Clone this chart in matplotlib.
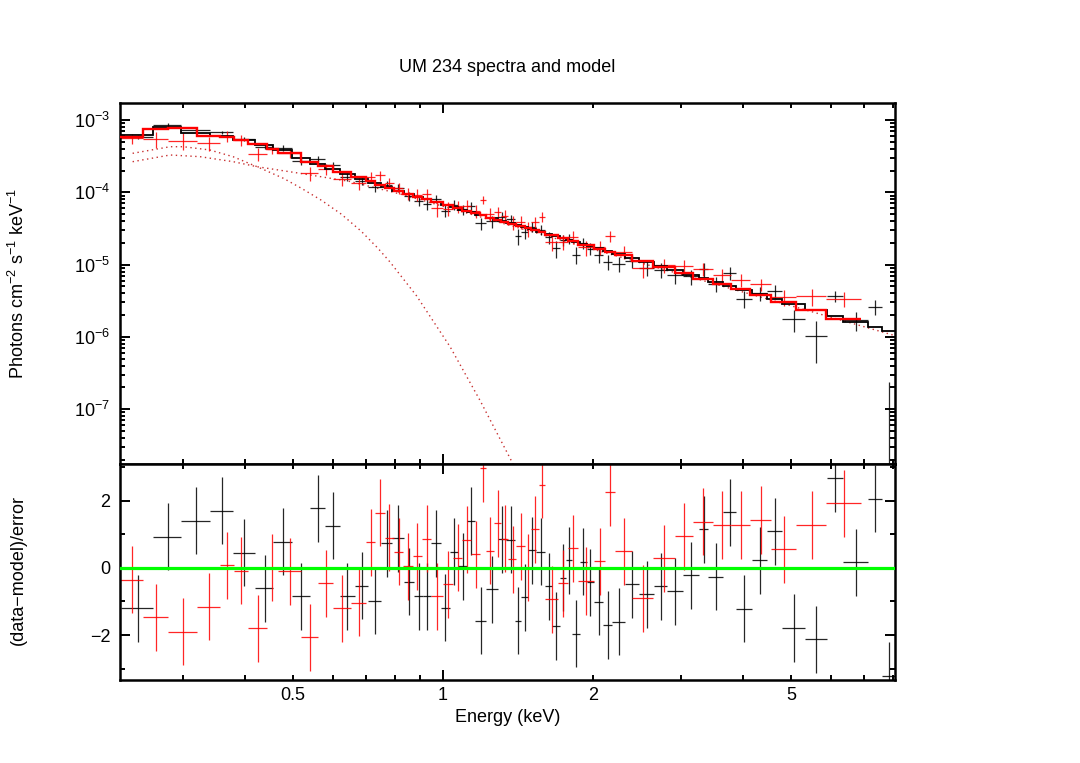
import numpy as np
import matplotlib
matplotlib.use("Agg")
import matplotlib.pyplot as plt
from matplotlib.ticker import FixedLocator, FuncFormatter, LogLocator, NullFormatter

plt.rcParams['font.family'] = ['Liberation Sans', 'DejaVu Sans']
plt.rcParams['mathtext.fontset'] = 'custom'
plt.rcParams['mathtext.rm'] = 'Liberation Sans'
plt.rcParams['mathtext.it'] = 'Liberation Sans:italic'
plt.rcParams['mathtext.bf'] = 'Liberation Sans:bold'

# ---- black spectrum: bin edges (keV), model per bin, residual, fractional error ----
bk_edges = [0.226, 0.262, 0.298, 0.341, 0.378, 0.420, 0.456, 0.497, 0.540, 0.580,
            0.620, 0.665, 0.707, 0.752, 0.790, 0.835, 0.875, 0.912, 0.947, 0.990,
            1.032, 1.072, 1.117, 1.161, 1.222, 1.289, 1.340, 1.393, 1.436, 1.482,
            1.540, 1.605, 1.656, 1.716, 1.764, 1.816, 1.881, 1.941, 2.011, 2.096,
            2.185, 2.317, 2.472, 2.653, 2.822, 3.029, 3.263, 3.406, 3.650, 3.882,
            4.174, 4.474, 4.794, 5.324, 5.896, 6.368, 7.137, 7.614, 8.123]
bk_model = [6.20e-4, 8.07e-4, 6.67e-4, 6.01e-4, 5.29e-4, 4.51e-4, 3.85e-4, 2.95e-4, 2.47e-4, 2.10e-4,
            1.79e-4, 1.54e-4, 1.34e-4, 1.17e-4, 1.04e-4, 9.38e-5, 8.61e-5, 7.95e-5, 7.34e-5, 6.76e-5,
            6.24e-5, 5.77e-5, 5.32e-5, 4.89e-5, 4.40e-5, 4.02e-5, 3.72e-5, 3.48e-5, 3.27e-5, 3.06e-5,
            2.82e-5, 2.63e-5, 2.46e-5, 2.32e-5, 2.19e-5, 2.06e-5, 1.93e-5, 1.80e-5, 1.67e-5, 1.54e-5,
            1.40e-5, 1.24e-5, 1.08e-5, 9.50e-6, 8.34e-6, 7.23e-6, 6.44e-6, 5.77e-6, 5.07e-6, 4.44e-6,
            3.87e-6, 3.38e-6, 2.84e-6, 2.32e-6, 1.95e-6, 1.61e-6, 1.35e-6, 1.19e-6]
bk_resid = [-1.20, 0.93, 1.41, 1.70, 0.45, -0.61, 0.78, -0.84, 1.78, 1.26,
            -0.85, -0.53, -0.98, 0.73, 0.89, -0.41, -0.85, -0.85, 0.73, -1.18,
            0.49, 0.05, 1.40, -1.58, -0.63, 0.86, 0.84, -1.58, -0.88, 0.53,
            0.48, -0.55, -1.73, -0.29, 0.23, -1.96, 0.18, -0.43, -1.01, -1.70,
            -1.60, -0.49, -0.79, -0.55, -0.70, -0.22, 1.16, -0.26, 1.66, -1.21,
            0.23, 1.10, -1.79, -2.12, 2.68, 0.17, 2.07, -3.22]
bk_ferr = [0.05, 0.07, 0.07, 0.07, 0.08, 0.08, 0.09, 0.10, 0.10, 0.11,
           0.11, 0.12, 0.12, 0.13, 0.13, 0.14, 0.14, 0.15, 0.15, 0.15,
           0.16, 0.16, 0.16, 0.15, 0.16, 0.17, 0.17, 0.18, 0.17, 0.17,
           0.17, 0.17, 0.18, 0.17, 0.17, 0.17, 0.17, 0.18, 0.18, 0.17,
           0.17, 0.19, 0.20, 0.20, 0.21, 0.22, 0.29, 0.22, 0.30, 0.20,
           0.23, 0.26, 0.21, 0.26, 0.33, 0.30, 0.45, 0.36]

# ---- red spectrum ----
rd_edges = [0.224, 0.250, 0.280, 0.321, 0.356, 0.380, 0.406, 0.442, 0.466, 0.518,
            0.561, 0.601, 0.653, 0.700, 0.731, 0.764, 0.797, 0.832, 0.869, 0.906,
            0.947, 1.000, 1.047, 1.092, 1.140, 1.185, 1.222, 1.266, 1.310, 1.353,
            1.404, 1.463, 1.502, 1.557, 1.605, 1.702, 1.782, 1.866, 2.011, 2.118,
            2.213, 2.397, 2.645, 2.920, 3.182, 3.480, 3.793, 4.129, 4.550, 5.123,
            5.885, 6.901]
rd_model = [5.88e-4, 7.39e-4, 7.68e-4, 6.01e-4, 5.88e-4, 5.28e-4, 4.65e-4, 3.94e-4, 3.53e-4, 2.65e-4,
            2.28e-4, 1.91e-4, 1.63e-4, 1.43e-4, 1.28e-4, 1.16e-4, 1.05e-4, 9.47e-5, 8.72e-5, 8.00e-5,
            7.27e-5, 6.59e-5, 6.04e-5, 5.56e-5, 5.13e-5, 4.79e-5, 4.48e-5, 4.19e-5, 3.94e-5, 3.67e-5,
            3.40e-5, 3.18e-5, 2.99e-5, 2.81e-5, 2.57e-5, 2.32e-5, 2.11e-5, 1.88e-5, 1.66e-5, 1.51e-5,
            1.34e-5, 1.12e-5, 9.23e-6, 7.71e-6, 6.40e-6, 5.40e-6, 4.55e-6, 3.80e-6, 3.07e-6, 2.38e-6,
            1.78e-6]
rd_resid = [-0.35, -1.47, -1.90, -1.15, 0.08, -0.08, -1.80, 0.00, -0.10, -2.07,
            -0.46, -1.20, -1.03, 0.76, 1.64, 0.90, 0.48, 0.05, 0.35, 0.87,
            -0.85, -0.49, 0.30, 0.84, 0.41, 2.98, 0.51, 1.33, 0.87, 0.26,
            0.64, 0.00, 1.16, 2.48, -0.93, -0.46, 0.59, -0.39, 0.20, 2.25,
            0.50, -0.90, 0.29, 0.94, 1.38, 1.28, 1.28, 1.43, 0.56, 1.28,
            1.93]
rd_ferr = [0.16, 0.18, 0.17, 0.18, 0.17, 0.17, 0.15, 0.15, 0.15, 0.15,
           0.16, 0.16, 0.17, 0.18, 0.21, 0.19, 0.19, 0.19, 0.19, 0.20,
           0.20, 0.20, 0.21, 0.21, 0.22, 0.22, 0.22, 0.22, 0.23, 0.23,
           0.23, 0.24, 0.24, 0.25, 0.21, 0.22, 0.23, 0.21, 0.24, 0.29,
           0.24, 0.22, 0.23, 0.25, 0.27, 0.27, 0.27, 0.28, 0.28, 0.41,
           0.47]

# ---- model components (dotted) ----
th_energy = [0.238, 0.283, 0.301, 0.340, 0.379, 0.423, 0.478, 0.519, 0.570,
             0.625, 0.685, 0.740, 0.782, 0.885, 1.033, 1.187, 1.395]
th_flux = [3.46e-4, 4.27e-4, 4.27e-4, 3.85e-4, 3.10e-4, 2.26e-4, 1.56e-4, 1.14e-4, 7.74e-5,
           4.97e-5, 2.89e-5, 1.68e-5, 1.09e-5, 3.68e-6, 7.29e-7, 1.31e-7, 1.54e-8]
pl_energy = [0.238, 0.283, 0.325, 0.379, 0.423, 0.516, 0.651, 0.820, 1.302,
             2.066, 3.281, 5.211, 8.085]
pl_flux = [2.65e-4, 3.28e-4, 3.11e-4, 2.65e-4, 2.26e-4, 1.83e-4, 1.41e-4, 9.47e-5, 3.81e-5,
           1.53e-5, 6.17e-6, 2.48e-6, 1.04e-6]


def spectrum(edges, model, resid, ferr):
    edges = np.asarray(edges)
    model = np.asarray(model)
    resid = np.asarray(resid)
    ferr = np.asarray(ferr)
    cen = 0.5 * (edges[:-1] + edges[1:])
    xerr = [cen - edges[:-1], edges[1:] - cen]
    err = model * ferr
    flux = model + resid * err
    return cen, xerr, flux, err


fig = plt.figure(figsize=(10.8, 7.63), dpi=100)
ax1 = fig.add_axes([0.1111, 0.3919, 0.7176, 0.4731])
ax2 = fig.add_axes([0.1111, 0.1088, 0.7176, 0.2831], sharex=ax1)

ax1.set_xscale('log')
ax1.set_yscale('log', nonpositive='clip')

ax1.plot(th_energy, th_flux, color='#c83030', lw=1.0, ls=(0, (1, 2.5)), zorder=1)
ax1.plot(pl_energy, pl_flux, color='#c83030', lw=1.0, ls=(0, (1, 2.5)), zorder=1)

datasets = [(bk_edges, bk_model, bk_resid, bk_ferr, 'black', 1.3),
            (rd_edges, rd_model, rd_resid, rd_ferr, '#ff0000', 1.7)]
for edges, model, resid, ferr, col, mlw in datasets:
    cen, xerr, flux, err = spectrum(edges, model, resid, ferr)
    ax1.errorbar(cen, flux, xerr=xerr, yerr=err, fmt='none', ecolor=col,
                 elinewidth=0.9, capsize=0, alpha=0.85, zorder=2)
    ax2.errorbar(cen, resid, xerr=xerr, yerr=1.0, fmt='none', ecolor=col,
                 elinewidth=0.9, capsize=0, alpha=0.85, zorder=2)
for edges, model, resid, ferr, col, mlw in datasets:
    ax1.stairs(model, edges, baseline=None, color=col, lw=mlw, zorder=3)

ax2.axhline(0, color='#00ff00', lw=2.3, zorder=4)

ax1.set_xlim(0.2245, 8.08)
ax1.set_ylim(10**-7.758, 10**-2.765)
ax2.set_ylim(-3.34, 3.10)

# x ticks: long tick at 1, short ticks elsewhere, labels 0.5 1 2 5
ax2.xaxis.set_major_locator(FixedLocator([1]))
ax2.xaxis.set_minor_locator(FixedLocator([0.3, 0.4, 0.5, 0.6, 0.7, 0.8, 0.9,
                                           2, 3, 4, 5, 6, 7, 8]))
ax2.xaxis.set_major_formatter(FuncFormatter(lambda v, p: '1'))
ax2.xaxis.set_minor_formatter(FuncFormatter(
    lambda v, p: {0.5: '0.5', 2: '2', 5: '5'}.get(round(v, 2), '')))

ax1.yaxis.set_major_locator(LogLocator(base=10, numticks=20))
ax1.yaxis.set_minor_locator(LogLocator(base=10, subs=np.arange(2, 10), numticks=20))
ax1.yaxis.set_minor_formatter(NullFormatter())

ax2.yaxis.set_major_locator(FixedLocator([-2, 0, 2]))
ax2.yaxis.set_minor_locator(FixedLocator([-3, -1, 1, 3]))
ax2.yaxis.set_major_formatter(FuncFormatter(lambda v, p: '%d' % v if v >= 0 else '\u2212%d' % -v))

for ax in (ax1, ax2):
    ax.tick_params(which='both', direction='in', top=True, right=True,
                   width=1.4, labelsize=13, pad=7)
    ax.tick_params(which='major', length=7)
    ax.tick_params(which='minor', length=3.6)
    ax.tick_params(axis='x', which='both', pad=5)
    for s in ax.spines.values():
        s.set_linewidth(1.8)
ax1.tick_params(which='both', labelbottom=False)

fig.text(0.470, 0.912, 'UM 234 spectra and model', ha='center', va='center', fontsize=13)
fig.text(0.470, 0.059, 'Energy (keV)', ha='center', va='center', fontsize=13)
fig.text(0.0167, 0.629, r'Photons cm$^{-2}$ s$^{-1}$ keV$^{-1}$', rotation=90,
         ha='center', va='center', fontsize=13)
fig.text(0.0167, 0.253, '(data\u2212model)/error', rotation=90,
         ha='center', va='center', fontsize=13)

fig.savefig('out.png', dpi=100)
